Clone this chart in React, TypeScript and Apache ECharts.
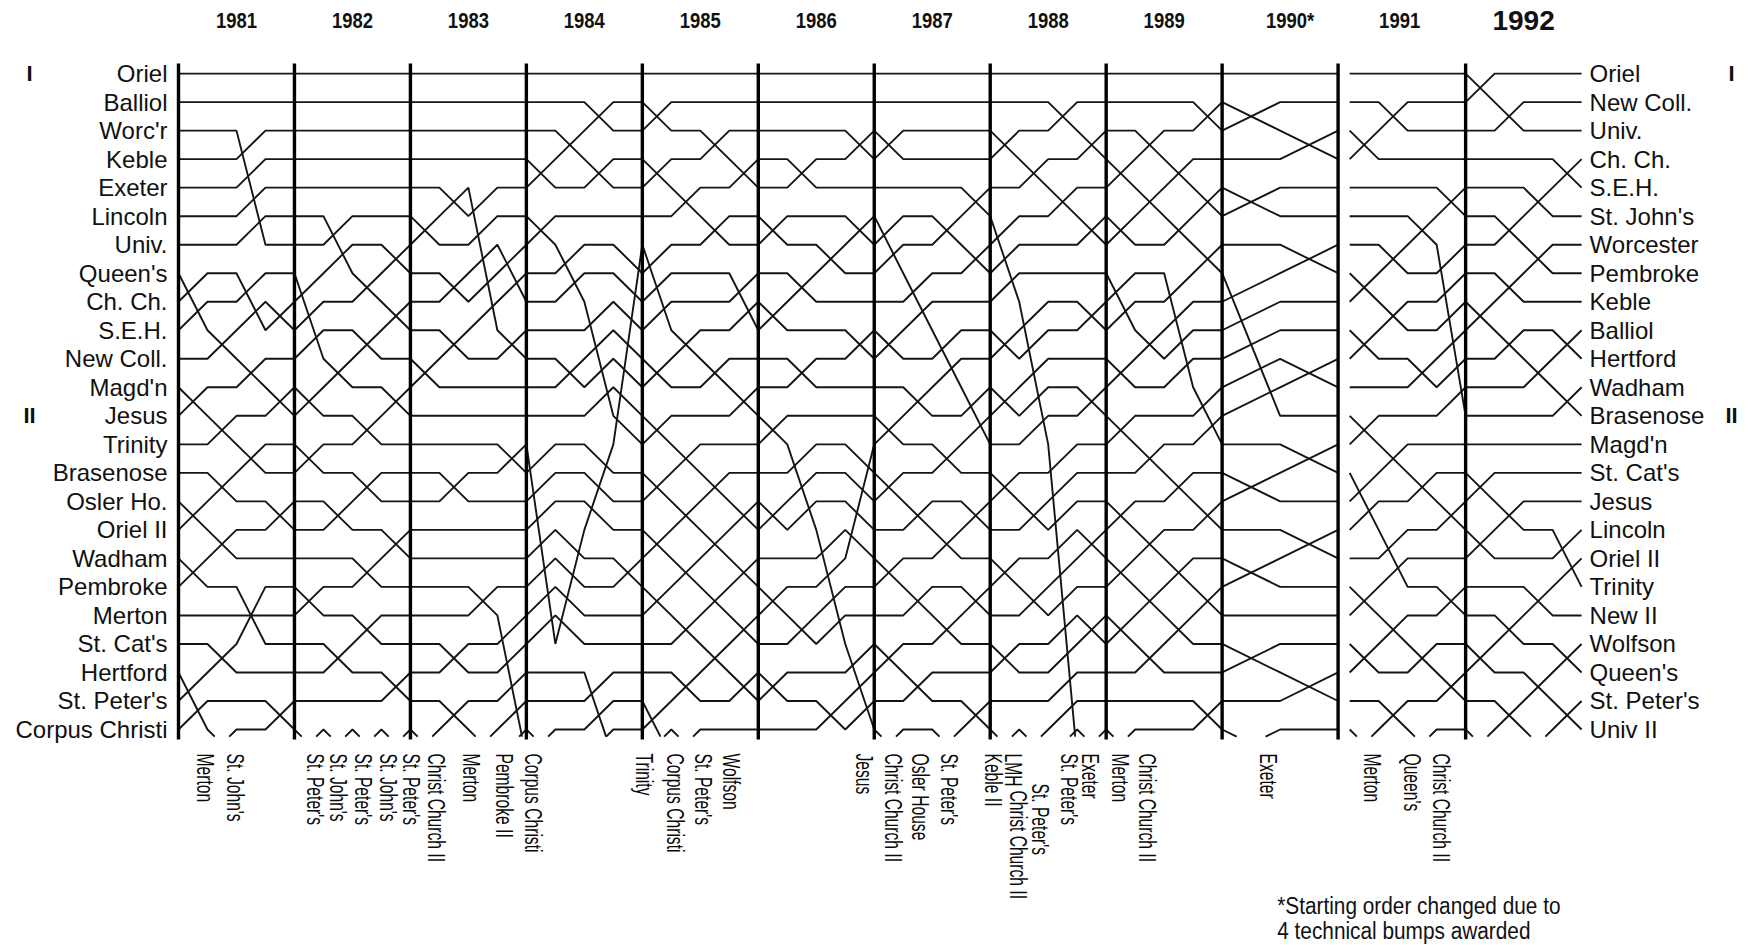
import React, { useEffect, useRef } from "react";
import * as echarts from "echarts";

// ---------------- data ----------------
const years = ["1981", "1982", "1983", "1984", "1985", "1986", "1987", "1988", "1989", "1990*", "1991", "1992"];
// start of each year on the day axis (1990 -> 1991 has a break)
const yearStart = [0, 4, 8, 12, 16, 20, 24, 28, 32, 36, 40.4, 44.4];
const yearDays = [4, 4, 4, 4, 4, 4, 4, 4, 4, 4, 4, 4];
const dividers = [0, 4, 8, 12, 16, 20, 24, 28, 32, 36, 40, 44.4];

const startOrder = ["Oriel", "Balliol", "Worc'r", "Keble", "Exeter", "Lincoln", "Univ.", "Queen's", "Ch. Ch.", "S.E.H.", "New Coll.", "Magd'n", "Jesus", "Trinity", "Brasenose", "Osler Ho.", "Oriel II", "Wadham", "Pembroke", "Merton", "St. Cat's", "Hertford", "St. Peter's", "Corpus Christi"];
const finishOrder = ["Oriel", "New Coll.", "Univ.", "Ch. Ch.", "S.E.H.", "St. John's", "Worcester", "Pembroke", "Keble", "Balliol", "Hertford", "Wadham", "Brasenose", "Magd'n", "St. Cat's", "Jesus", "Lincoln", "Oriel II", "Trinity", "New II", "Wolfson", "Queen's", "St. Peter's", "Univ II"];
const divisionMarks: [string, number][] = [["I", 1], ["II", 13]];

// per day: [fromRow, toRow] for crews that move up (row 25 = head of the division below)
const bumps1981 = [
  [[9, 8], [10, 9], [13, 12], [17, 16], [19, 18], [23, 22], [24, 23]],
  [[11, 10], [14, 13], [16, 15], [18, 17], [22, 21], [25, 24]],
  [[4, 3], [5, 4], [6, 5], [7, 6], [9, 8], [10, 9], [12, 11], [15, 14], [21, 19], [20, 20]],
  [[10, 9], [13, 12], [17, 16], [24, 23]],
];
const bumps1982 = [
  [[9, 8], [10, 9], [11, 10], [13, 12], [15, 14], [20, 19], [25, 24]],
  [[7, 6], [8, 7], [12, 11], [17, 16], [22, 21], [25, 24]],
  [[9, 8], [11, 10], [14, 13], [16, 15], [19, 18], [21, 20], [25, 24]],
  [[8, 7], [10, 9], [13, 12], [18, 17], [23, 22], [25, 24]],
];
const bumps1983 = [
  [[7, 6], [12, 11], [25, 24]],
  [[6, 5], [9, 8], [11, 10], [16, 15], [22, 21], [24, 23]],
  [[6, 5], [7, 6], [8, 7], [9, 8], [10, 9], [20, 19], [25, 24]],
  [[8, 7], [9, 8], [11, 10], [15, 14], [21, 20], [22, 21], [23, 22], [24, 23], [25, 24]],
];
const bumps1984 = [
  [[5, 4], [7, 6], [15, 14], [16, 15], [17, 16], [18, 17], [19, 18], [20, 19], [21, 20], [25, 24]],
  [[4, 3], [8, 7], [9, 8], [12, 11], [21, 17]],
  [[3, 2], [5, 4], [10, 9], [11, 10], [12, 11], [13, 12], [17, 14], [23, 22], [24, 23], [25, 24]],
  [[14, 7], [19, 18]],
];
const bumps1985 = [
  [[3, 2], [5, 4], [8, 7], [9, 8], [10, 9], [12, 11], [14, 13], [16, 15], [18, 17], [20, 19], [24, 23], [25, 24]],
  [[6, 5], [11, 10], [15, 14], [17, 16], [19, 18], [21, 20], [23, 22], [25, 24]],
  [[4, 3], [7, 6], [12, 11], [16, 15], [18, 17], [20, 19], [22, 21]],
  [[5, 4], [9, 8], [10, 9], [13, 12], [17, 16], [19, 18], [21, 20], [23, 22]],
];
const bumps1986 = [
  [[7, 6], [10, 9], [14, 13], [17, 16], [20, 19], [23, 22]],
  [[5, 4], [9, 8], [12, 11], [15, 14], [16, 15], [17, 16], [21, 20]],
  [[8, 7], [18, 17], [19, 18], [20, 19], [21, 20], [24, 23]],
  [[4, 3], [7, 6], [11, 10], [18, 14], [22, 21], [23, 22], [24, 23]],
];
const bumps1987 = [
  [[4, 3], [7, 6], [8, 7], [11, 10], [14, 13], [16, 15], [19, 18], [22, 21], [25, 24]],
  [[9, 8], [10, 9], [13, 12], [17, 16], [20, 19], [23, 22]],
  [[7, 6], [11, 10], [12, 11], [15, 14], [18, 17], [21, 20], [25, 24]],
  [[6, 5], [8, 7], [13, 12], [14, 13], [17, 16], [20, 19], [24, 23]],
];
const bumps1988 = [
  [[4, 3], [7, 6], [8, 7], [9, 8], [11, 10], [13, 12], [16, 15], [19, 18], [22, 21], [25, 24]],
  [[5, 4], [10, 9], [11, 10], [12, 11], [13, 12], [14, 13], [17, 16], [20, 19], [25, 24]],
  [[3, 2], [6, 5], [15, 14], [16, 15], [17, 16], [18, 17], [19, 18], [20, 19], [21, 20], [22, 21], [23, 22], [24, 23], [25, 24]],
  [[4, 3], [7, 6], [10, 9], [13, 12], [18, 17], [21, 20], [25, 24]],
];
const bumps1989 = [
  [[5, 4], [7, 6], [9, 8], [10, 9], [12, 11], [14, 13], [17, 16], [19, 18], [21, 20], [25, 24]],
  [[4, 3], [6, 5], [11, 10], [15, 14], [18, 17], [20, 19], [22, 21]],
  [[5, 4], [7, 6], [9, 8], [10, 9], [11, 10], [12, 11], [16, 15], [19, 18], [21, 20]],
  [[3, 2], [6, 5], [8, 7], [13, 12], [14, 13], [17, 16], [20, 19], [24, 23]],
];
// 1990 is drawn in two half-year steps
const bumps1990 = [
  [[3, 2], [6, 5], [9, 8], [10, 9], [11, 10], [12, 11], [13, 12], [16, 15], [19, 18], [22, 21], [25, 24]],
  [[4, 3], [8, 7], [12, 11], [15, 14], [18, 17], [23, 22]],
];
const bumps1991 = [
  [[4, 3], [9, 8], [11, 10], [14, 13], [16, 15], [17, 16], [20, 19], [22, 21], [25, 24]],
  [[3, 2], [8, 7], [10, 9], [15, 14], [18, 17], [19, 18], [21, 20], [24, 23]],
  [[7, 6], [12, 11], [16, 15], [22, 21], [25, 24]],
  [[6, 5], [8, 7], [9, 8], [10, 9], [11, 10], [12, 11], [13, 12], [17, 16], [20, 19], [23, 22]],
];
const bumps1992 = [
  [[2, 1], [10, 9], [16, 15], [18, 17], [22, 21], [25, 24]],
  [[3, 2], [7, 6], [9, 8], [11, 10], [17, 16], [21, 20], [24, 23]],
  [[6, 5], [8, 7], [12, 11], [20, 19], [23, 22], [25, 24]],
  [[5, 4], [11, 10], [13, 12], [18, 17], [19, 18], [22, 21], [24, 23]],
];
const bumpsByYear = [bumps1981, bumps1982, bumps1983, bumps1984, bumps1985, bumps1986, bumps1987, bumps1988, bumps1989, bumps1990, bumps1991, bumps1992];

// crews entering / leaving at the foot of the chart: [name, day position]
const bottomLabels: [string, number][] = [
  ["Merton", 0.93], ["St. John's", 1.97],
  ["St. Peter's", 4.72], ["St. John's", 5.52], ["St. Peter's", 6.36], ["St. John's", 7.24], ["St. Peter's", 8.04],
  ["Christ Church II", 8.88], ["Merton", 10.1], ["Pembroke II", 11.24], ["Corpus Christi", 12.23],
  ["Trinity", 16.07], ["Corpus Christi", 17.14], ["St. Peter's", 18.1], ["Wolfson", 19.05],
  ["Jesus", 23.64], ["Christ Church II", 24.66], ["Osler House", 25.59], ["St. Peter's", 26.6],
  ["Keble II", 28.1], ["LMH", 28.8], ["Christ Church II", 28.96], ["St. Peter's", 29.73], ["St. Peter's", 30.72], ["Exeter", 31.46],
  ["Merton", 32.48], ["Christ Church II", 33.43],
  ["Exeter", 37.6],
  ["Merton", 41.19], ["Queen's", 42.55], ["Christ Church II", 43.57],
];
const footnote = ["*Starting order changed due to", "4 technical bumps awarded"];

// ---------------- layout constants ----------------
const CLIP = 24.25;
const ROW_TOP = 0.65;
const ROW_BOTTOM = 24.35;
const SANS = "'Liberation Sans', Arial, Helvetica, sans-serif";
const labelDrop: Record<number, number> = { 21: 37, 22: 30 };
const yearNudge: Record<number, number> = { 9: 10, 10: -8 };

type Pt = [number, number];

function buildTracks(): Pt[][] {
  const tracks: Pt[][] = [];
  let order: number[] = [];
  for (let r = 1; r <= 24; r++) {
    tracks.push([]);
    order.push(tracks.length - 1);
  }
  let prevEnd = -999;
  for (let y = 0; y < years.length; y++) {
    const x0 = yearStart[y];
    if (Math.abs(x0 - prevEnd) > 1e-6 && y > 0) {
      order = order.map(() => {
        tracks.push([]);
        return tracks.length - 1;
      });
    }
    order.forEach((t, i) => {
      const tr = tracks[t];
      const last = tr[tr.length - 1];
      if (!last || Math.abs(last[0] - x0) > 1e-6) tr.push([x0, i + 1]);
    });
    const steps = bumpsByYear[y];
    const w = yearDays[y] / steps.length;
    let x = x0;
    for (const moves of steps) {
      const x1 = x + w;
      const hasGhost = moves.some((m) => m[0] === 25);
      const cur = order.slice();
      if (hasGhost) {
        tracks.push([]);
        cur.push(tracks.length - 1);
      }
      const n = cur.length;
      const next: number[] = new Array(n).fill(-1);
      const usedFrom = new Set<number>();
      for (const [f, t] of moves) {
        if (f < 1 || f > n || t < 1 || t > n) continue;
        if (usedFrom.has(f) || next[t - 1] !== -1) continue;
        next[t - 1] = cur[f - 1];
        usedFrom.add(f);
      }
      const rest = cur.filter((_, i) => !usedFrom.has(i + 1));
      let k = 0;
      for (let i = 0; i < n; i++) if (next[i] === -1) next[i] = rest[k++];
      for (let i = 0; i < n; i++) {
        const c = next[i];
        const from = cur.indexOf(c) + 1;
        const to = i + 1;
        const tr = tracks[c];
        if (from === 25 && to <= 24) {
          const tt = (25 - CLIP) / (25 - to);
          tr.push([x + tt * w, CLIP]);
          tr.push([x1, to]);
        } else if (to === 25 && from <= 24) {
          const tt = (CLIP - from) / (25 - from);
          tr.push([x + tt * w, CLIP]);
        } else if (to <= 24) {
          tr.push([x1, to]);
        }
      }
      order = next.slice(0, 24);
      x = x1;
    }
    prevEnd = x;
  }
  return tracks.filter((t) => t.length > 1);
}

export default function App() {
  const ref = useRef<HTMLDivElement>(null);
  useEffect(() => {
    if (!ref.current) return;
    const chart = echarts.init(ref.current, null, { renderer: "svg" });
    const tracks = buildTracks();
    const xMax = yearStart[yearStart.length - 1] + yearDays[yearDays.length - 1];

    const series: any[] = tracks.map((tr) => ({
      type: "line",
      data: tr,
      symbol: "none",
      clip: false,
      silent: true,
      z: 2,
      lineStyle: { color: "#151515", width: 1.9 },
    }));
    dividers.forEach((d) => {
      series.push({
        type: "line",
        data: [[d, ROW_TOP], [d, ROW_BOTTOM]],
        symbol: "none",
        clip: false,
        silent: true,
        z: 3,
        lineStyle: { color: "#000", width: 3.4 },
      });
    });

    const yAxisBase = {
      type: "value",
      min: 1,
      max: 24,
      interval: 1,
      inverse: true,
      axisLine: { show: false },
      axisTick: { show: false },
      splitLine: { show: false },
    };

    chart.setOption({
      animation: false,
      backgroundColor: "#fff",
      textStyle: { fontFamily: SANS },
      grid: { left: 178.5, right: 167.4, top: 73.6, bottom: 215.5, containLabel: false },
      xAxis: { type: "value", min: 0, max: xMax, show: false },
      yAxis: [
        {
          ...yAxisBase,
          position: "left",
          axisLabel: {
            show: true,
            showMinLabel: true,
            showMaxLabel: true,
            margin: 11,
            color: "#111",
            fontSize: 24,
            fontFamily: SANS,
            formatter: (v: number) => startOrder[Math.round(v) - 1] ?? "",
          },
        },
        {
          ...yAxisBase,
          position: "right",
          axisLabel: {
            show: true,
            showMinLabel: true,
            showMaxLabel: true,
            margin: 8,
            color: "#111",
            fontSize: 24,
            fontFamily: SANS,
            formatter: (v: number) => finishOrder[Math.round(v) - 1] ?? "",
          },
        },
      ],
      series,
    });

    const toPx = (x: number, y: number) =>
      chart.convertToPixel({ xAxisIndex: 0, yAxisIndex: 0 }, [x, y]) as number[];

    const graphics: any[] = [];
    years.forEach((yr, i) => {
      const center = toPx(yearStart[i] + yearDays[i] / 2, 1)[0];
      const big = i === years.length - 1;
      graphics.push({
        type: "text",
        x: center + (yearNudge[i] ?? 0),
        y: 20,
        scaleX: big ? 1 : 0.84,
        style: {
          text: yr,
          fill: "#111",
          fontSize: big ? 28 : 22,
          fontWeight: "bold",
          fontFamily: SANS,
          align: "center",
          verticalAlign: "middle",
          textAlign: "center",
          textVerticalAlign: "middle",
        },
      });
    });
    const leftX = toPx(0, 1)[0];
    const rightX = toPx(xMax, 1)[0];
    divisionMarks.forEach(([t, row]) => {
      const py = toPx(0, row)[1];
      [leftX - 149, rightX + 150].forEach((px) => {
        graphics.push({
          type: "text",
          x: px,
          y: py,
          style: {
            text: t,
            fill: "#111",
            fontSize: 22,
            fontWeight: "bold",
            fontFamily: SANS,
            align: "center",
            verticalAlign: "middle",
            textAlign: "center",
            textVerticalAlign: "middle",
          },
        });
      });
    });
    const labelTop = toPx(0, ROW_BOTTOM)[1] + 14;
    bottomLabels.forEach(([name, day], i) => {
      const px = toPx(day, 24)[0];
      const dy = labelDrop[i] ?? 0;
      graphics.push({
        type: "text",
        x: px,
        y: labelTop + dy,
        rotation: -Math.PI / 2,
        scaleX: 0.68,
        style: {
          text: name,
          fill: "#0a0a0a",
          fontSize: 23,
          fontFamily: SANS,
          align: "left",
          verticalAlign: "middle",
          textAlign: "left",
          textVerticalAlign: "middle",
        },
      });
    });
    footnote.forEach((line, i) => {
      graphics.push({
        type: "text",
        x: toPx(37.9, 24)[0],
        y: 906 + i * 25,
        scaleX: 0.905,
        style: {
          text: line,
          fill: "#111",
          fontSize: 23,
          fontFamily: SANS,
          align: "left",
          verticalAlign: "middle",
          textAlign: "left",
          textVerticalAlign: "middle",
        },
      });
    });
    chart.setOption({ graphic: graphics });

    return () => chart.dispose();
  }, []);
  return (
    <div
      ref={ref}
      style={{ position: "fixed", left: 0, top: 0, width: 1749, height: 945, background: "#fff" }}
    />
  );
}
